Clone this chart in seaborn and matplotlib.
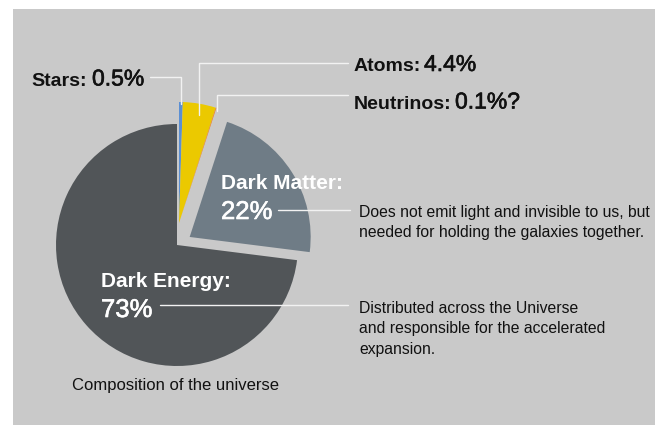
import matplotlib
matplotlib.use("Agg")
import matplotlib.pyplot as plt
import matplotlib.patheffects as pe
import seaborn as sns
from matplotlib.patches import Rectangle

# data
components = ["Stars", "Atoms", "Neutrinos", "Dark Matter", "Dark Energy"]
shares = [0.5, 4.4, 0.1, 22, 73]
share_labels = ["0.5%", "4.4%", "0.1%?", "22%", "73%"]
colors = ["#5b8fd3", "#ebc900", "#f0821e", "#6f7c86", "#515558"]
dark_matter_note = ["Does not emit light and invisible to us, but",
                    "needed for holding the galaxies together."]
dark_energy_note = ["Distributed across the Universe",
                    "and responsible for the accelerated",
                    "expansion."]
caption = "Composition of the universe"

sns.set_theme(style="white")
plt.rcParams["font.family"] = ["Liberation Sans", "DejaVu Sans"]

W, H = 655, 425
bg = "#c9c9c9"
line_c = "#f2f2f2"
ink = "#111111"


def Y(y):
    # pixel rows from the top -> axis units from the bottom
    return H - y


def thick(c):
    return [pe.withStroke(linewidth=0.45, foreground=c)]


fig = plt.figure(figsize=(W / 100, H / 100), dpi=100)
ax = fig.add_axes([0, 0, 1, 1])
ax.add_patch(Rectangle((13, 0), W - 13, H - 9, color=bg, lw=0, zorder=0))

# big slices (dark matter pulled out, explode is in axis units here)
main_colors = ["none"] * 3 + colors[3:]
ax.pie(shares, colors=main_colors, startangle=90, counterclock=False,
       radius=121, center=(177, Y(245)), explode=[0, 0, 0, 15, 0],
       wedgeprops=dict(linewidth=0))
# baryons + neutrinos pulled out together
small_colors = colors[:3] + ["none"] * 2
ax.pie(shares, colors=small_colors, startangle=90, counterclock=False,
       radius=121, center=(179, Y(223)),
       wedgeprops=dict(linewidth=0))

ax.set_xlim(0, W)
ax.set_ylim(0, H)
ax.set_aspect("auto")
ax.axis("off")

# leader lines
ax.plot([150, 181, 181], [Y(77), Y(77), Y(104)], color=line_c, lw=1.0)
ax.plot([348, 199, 199], [Y(63), Y(63), Y(115)], color=line_c, lw=1.0)
ax.plot([348, 217, 217], [Y(95), Y(95), Y(111)], color=line_c, lw=1.0)
ax.plot([278, 350], [Y(210), Y(210)], color=line_c, lw=1.0)
ax.plot([160, 348], [Y(305), Y(305)], color=line_c, lw=1.0)

# outside labels
outside = [(0, 31, 92, 85.5), (1, 354, 424, 71), (2, 354, 455, 108.5)]
for i, x0, x1, yb in outside:
    ax.text(x0, Y(yb), components[i] + ":", fontsize=14, fontweight="bold",
            color=ink, va="baseline", ha="left")
    ax.text(x1, Y(yb), share_labels[i], fontsize=16.5, color=ink,
            va="baseline", ha="left", path_effects=thick(ink))

# inside labels
ax.text(221, Y(189), components[3] + ":", fontsize=15, fontweight="bold",
        color="white", va="baseline")
ax.text(221, Y(219), share_labels[3], fontsize=18.5, color="white",
        va="baseline", path_effects=thick("white"))
ax.text(101, Y(287), components[4] + ":", fontsize=15, fontweight="bold",
        color="white", va="baseline")
ax.text(101, Y(317), share_labels[4], fontsize=18.5, color="white",
        va="baseline", path_effects=thick("white"))

# notes
for k, line in enumerate(dark_matter_note):
    ax.text(359, Y(217 + 19.7 * k), line, fontsize=11.3, color=ink, va="baseline")
for k, line in enumerate(dark_energy_note):
    ax.text(359, Y(313 + 20.5 * k), line, fontsize=11.3, color=ink, va="baseline")

ax.text(72, Y(390), caption, fontsize=12, color=ink, va="baseline")

fig.savefig("out.png", dpi=100, facecolor="white")
